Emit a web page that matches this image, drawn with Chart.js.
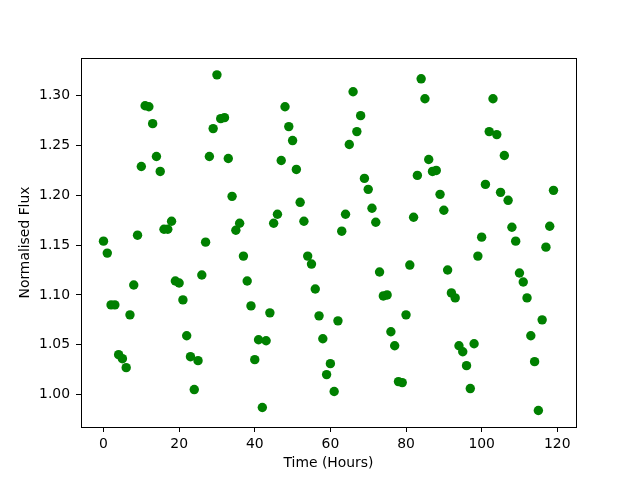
<!DOCTYPE html>
<html>
<head>
<meta charset="utf-8">
<script src="https://cdn.jsdelivr.net/npm/chart.js@4.4.1/dist/chart.umd.min.js"></script>
<style>
html, body { margin: 0; padding: 0; background: #ffffff; }
#wrap { width: 640px; height: 480px; }
</style>
</head>
<body>
<div id="wrap"><canvas id="c" width="640" height="480"></canvas></div>
<script>
// Time in hours
const hours = [
  0,1,2,3,4,5,6,7,8,9,10,11,12,13,14,15,16,17,18,19,
  20,21,22,23,24,25,26,27,28,29,30,31,32,33,34,35,36,37,38,39,
  40,41,42,43,44,45,46,47,48,49,50,51,52,53,54,55,56,57,58,59,
  60,61,62,63,64,65,66,67,68,69,70,71,72,73,74,75,76,77,78,79,
  80,81,82,83,84,85,86,87,88,89,90,91,92,93,94,95,96,97,98,99,
  100,101,102,103,104,105,106,107,108,109,110,111,112,113,114,115,116,117,118,119
];
// Normalised flux
const flux = [
  1.154,1.142,1.090,1.090,1.040,1.036,1.027,1.080,1.110,1.160,
  1.229,1.290,1.289,1.272,1.239,1.224,1.166,1.166,1.174,1.114,
  1.112,1.095,1.059,1.038,1.005,1.034,1.120,1.153,1.239,1.267,
  1.321,1.277,1.278,1.237,1.199,1.165,1.172,1.139,1.114,1.089,
  1.035,1.055,0.987,1.054,1.082,1.172,1.181,1.235,1.289,1.269,
  1.255,1.226,1.193,1.174,1.139,1.131,1.106,1.079,1.056,1.020,
  1.031,1.003,1.074,1.164,1.181,1.251,1.304,1.264,1.280,1.217,
  1.206,1.187,1.173,1.123,1.099,1.100,1.063,1.049,1.013,1.012,
  1.080,1.130,1.178,1.220,1.317,1.297,1.236,1.224,1.225,1.201,
  1.185,1.125,1.102,1.097,1.049,1.043,1.029,1.006,1.051,1.139,
  1.158,1.211,1.264,1.297,1.261,1.203,1.240,1.195,1.168,1.154,
  1.122,1.113,1.097,1.059,1.033,0.984,1.075,1.148,1.169,1.205
];
const xTicks = [0, 20, 40, 60, 80, 100, 120];
const yTicks = [1.00, 1.05, 1.10, 1.15, 1.20, 1.25, 1.30];

const points = hours.map((h, i) => ({ x: h, y: flux[i] }));

const FONT = "'DejaVu Sans', sans-serif";

const frame = {
  id: 'frame',
  afterDatasetsDraw(chart) {
    const { ctx, chartArea: a } = chart;
    ctx.save();
    ctx.strokeStyle = '#000';
    ctx.lineWidth = 1;
    ctx.strokeRect(Math.round(a.left) + 0.5, Math.round(a.top) + 0.5,
                   Math.round(a.right - a.left), Math.round(a.bottom - a.top));
    ctx.restore();
  }
};

new Chart(document.getElementById('c'), {
  type: 'scatter',
  data: {
    datasets: [{
      data: points,
      backgroundColor: '#008000',
      borderColor: '#008000',
      borderWidth: 0,
      pointRadius: 4.7,
      pointHoverRadius: 4.7
    }]
  },
  options: {
    responsive: false,
    animation: false,
    devicePixelRatio: 1,
    layout: { padding: { left: 0, top: 58, right: 64, bottom: 0 } },
    plugins: { legend: { display: false }, tooltip: { enabled: false } },
    scales: {
      x: {
        type: 'linear',
        min: -5.95,
        max: 124.95,
        afterBuildTicks(s) { s.ticks = xTicks.map(v => ({ value: v })); },
        afterFit(s) { s.height = 53; },
        grid: { drawOnChartArea: false, drawTicks: true, tickLength: 5, color: '#000', tickWidth: 1 },
        border: { display: false },
        ticks: { color: '#000', font: { family: FONT, size: 13.9 }, padding: 4, maxRotation: 0 },
        title: { display: true, text: 'Time (Hours)', color: '#000', font: { family: FONT, size: 13.9 }, padding: { top: 0, bottom: 8 } }
      },
      y: {
        type: 'linear',
        min: 0.9674,
        max: 1.3379,
        afterBuildTicks(s) { s.ticks = yTicks.map(v => ({ value: v })); },
        afterFit(s) { s.width = 81; },
        grid: { drawOnChartArea: false, drawTicks: true, tickLength: 5, color: '#000', tickWidth: 1 },
        border: { display: false },
        ticks: { color: '#000', font: { family: FONT, size: 13.9 }, padding: 6,
                 callback: v => Number(v).toFixed(2) },
        title: { display: true, text: 'Normalised Flux', color: '#000', font: { family: FONT, size: 13.9 }, padding: { top: 17, bottom: 0 } }
      }
    }
  },
  plugins: [frame]
});
</script>
</body>
</html>
